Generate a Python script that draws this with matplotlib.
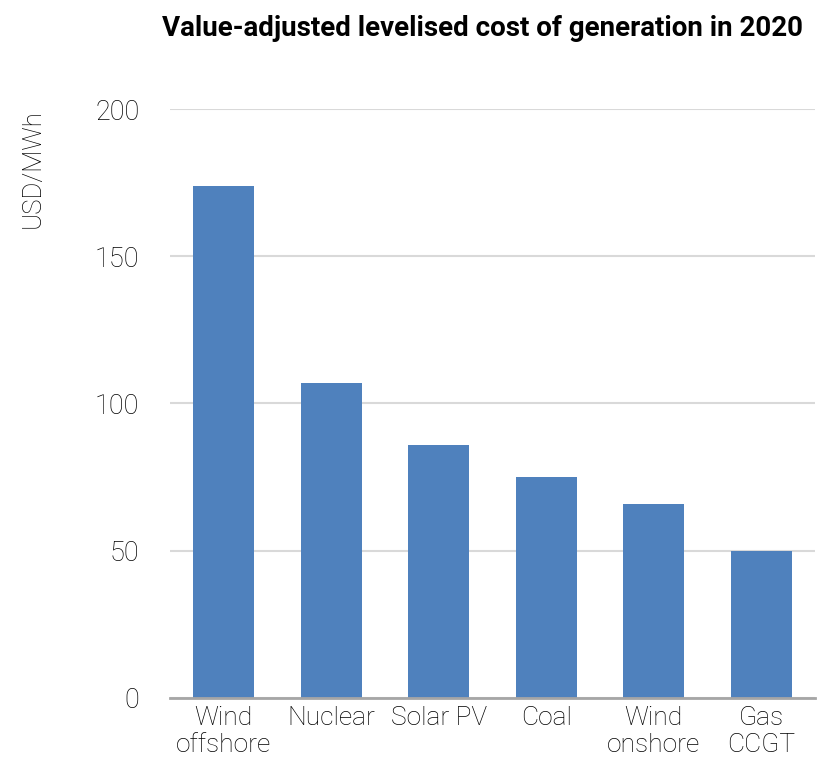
import matplotlib
matplotlib.use("Agg")
import matplotlib.pyplot as plt

categories = ["Wind\noffshore", "Nuclear", "Solar PV", "Coal", "Wind\nonshore", "Gas\nCCGT"]
values = [174, 107, 86, 75, 66, 50]
yticks = [0, 50, 100, 150, 200]

plt.rcParams['font.family'] = ['Roboto', 'DejaVu Sans']

fig = plt.figure(figsize=(8.25, 7.58), dpi=100)
ax = fig.add_axes([0.206, 0.0792, 0.782, 0.777])
x = list(range(len(categories)))
ax.bar(x, values, width=0.57, color="#4F81BD", zorder=3)
ax.set_xlim(-0.5, len(categories) - 0.5)
ax.set_ylim(0, 200)
ax.set_yticks(yticks)
ax.set_yticklabels([str(t) for t in yticks], fontsize=19.5, fontweight='light', color='#000000')
ax.set_xticks(x)
ax.set_xticklabels(categories, fontsize=19, fontweight='light', color='#000000', linespacing=1.12)
ax.tick_params(axis='both', length=0, pad=6)
ax.tick_params(axis='y', pad=22)
ax.grid(axis='y', color='#D9D9D9', linewidth=1.5, zorder=0)
for s in ['top', 'right', 'left']:
    ax.spines[s].set_visible(False)
ax.spines['bottom'].set_color('#A6A6A6')
ax.spines['bottom'].set_linewidth(2)
ax.spines['bottom'].set_zorder(4)

fig.text(0.585, 0.963, "Value-adjusted levelised cost of generation in 2020", ha='center', va='center',
         fontsize=20, fontweight='bold', color='#000000')
fig.text(0.04, 0.778, "USD/MWh", rotation=90, ha='center', va='center', fontsize=18.5,
         fontweight='light', color='#000000')

fig.savefig("out.png", dpi=100)
